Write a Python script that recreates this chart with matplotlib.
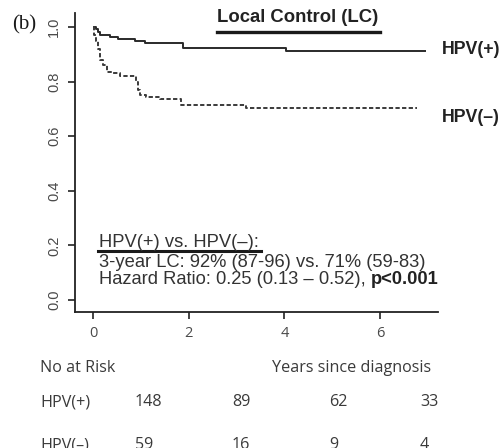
import matplotlib
matplotlib.use("Agg")
import matplotlib.pyplot as plt
from matplotlib.lines import Line2D

# Kaplan-Meier local control estimates (years, proportion)
t_pos = [0, 0.06, 0.10, 0.15, 0.36, 0.52, 0.88, 1.09, 1.88, 4.04, 6.95]
s_pos = [1.0, 0.993, 0.98, 0.97, 0.963, 0.956, 0.949, 0.941, 0.924, 0.913, 0.913]

t_neg = [0, 0.03, 0.07, 0.10, 0.15, 0.20, 0.30, 0.42, 0.56, 0.90, 0.94, 0.98,
         1.10, 1.40, 1.83, 3.20, 6.78]
s_neg = [1.0, 0.97, 0.95, 0.92, 0.88, 0.86, 0.835, 0.83, 0.82, 0.80, 0.77, 0.75,
         0.745, 0.736, 0.714, 0.703, 0.703]

x_ticks = [0, 2, 4, 6]
y_ticks = [0.0, 0.2, 0.4, 0.6, 0.8, 1.0]
y_ticklabels = ["0.0", "0.2", "0.4", "0.6", "0.8", "1.0"]

group_labels = ["HPV(+)", "HPV(\u2013)"]
risk_pos = [148, 89, 62, 33]
risk_neg = [59, 16, 9, 4]

W, H = 501, 448
SANS = "Liberation Sans"
TABLE = "Open Sans"


def fx(x):
    return x / W


def fy(y):
    return 1 - y / H


fig = plt.figure(figsize=(W / 100, H / 100), dpi=100)
ax = fig.add_axes([fx(75), fy(312), fx(438) - fx(75), fy(13) - fy(312)])

ax.step(t_pos, s_pos, where="post", color="#2a2a2a", lw=1.4, solid_capstyle="butt")
ax.step(t_neg, s_neg, where="post", color="#3a3a3a", lw=1.4,
        linestyle=(0, (2.2, 1.2)))

ax.set_xlim(-0.376, 7.21)
ax.set_ylim(-0.044, 1.051)
for side in ("top", "right"):
    ax.spines[side].set_visible(False)
for side in ("left", "bottom"):
    ax.spines[side].set_linewidth(1.3)
    ax.spines[side].set_color("#222222")

ax.set_yticks(y_ticks)
ax.set_yticklabels(y_ticklabels, rotation=90, va="center", family=SANS,
                   fontsize=10.5, color="#4a4a4a")
ax.set_xticks(x_ticks)
ax.set_xticklabels([str(v) for v in x_ticks], family=TABLE, fontsize=10.5,
                   color="#4a4a4a")
ax.tick_params(axis="y", direction="out", length=5, width=1.2, pad=5,
               color="#222222")
ax.tick_params(axis="x", direction="out", length=5, width=1.2, pad=5,
               color="#222222")

# Panel letter and title
fig.text(fx(12), fy(25), "(b)", family="Liberation Serif", fontsize=15,
         ha="left", va="center", color="#1a1a1a")
fig.text(fx(298), fy(18), "Local Control (LC)", family=SANS, fontsize=13.3,
         fontweight="bold", ha="center", va="center", color="#222222")
fig.add_artist(Line2D([fx(217), fx(380)], [fy(32), fy(32)], lw=2.4,
                      color="#1a1a1a"))

# Curve labels
fig.text(fx(442), fy(50), group_labels[0], family=SANS, fontsize=12.8,
         fontweight="bold", ha="left", va="center", color="#222222")
fig.text(fx(442), fy(117), group_labels[1], family=SANS, fontsize=12.8,
         fontweight="bold", ha="left", va="center", color="#222222")

# Comparison summary
fs = 13.2
fig.text(fx(99), fy(242), "HPV(+) vs. HPV(\u2013):", family=SANS, fontsize=fs,
         ha="left", va="center", color="#333333")
fig.add_artist(Line2D([fx(98), fx(261)], [fy(251), fy(251)], lw=2.2,
                      color="#1a1a1a"))
fig.text(fx(99), fy(262), "3-year LC: 92% (87-96) vs. 71% (59-83)", family=SANS,
         fontsize=fs, ha="left", va="center", color="#333333")
hr = fig.text(fx(99), fy(279), "Hazard Ratio: 0.25 (0.13 \u2013 0.52), ",
              family=SANS, fontsize=fs, ha="left", va="center", color="#333333")
fig.canvas.draw()
bb = hr.get_window_extent(renderer=fig.canvas.get_renderer())
fig.text(bb.x1 / fig.dpi / fig.get_figwidth(), fy(279), "p<0.001", family=SANS,
         fontsize=fs, fontweight="bold", ha="left", va="center", color="#222222")

# Numbers at risk
tfs = 11.6
fig.text(fx(40), fy(368), "No at Risk", family=TABLE, fontsize=tfs,
         ha="left", va="center", color="#3a3a3a")
fig.text(fx(272), fy(368), "Years since diagnosis", family=TABLE, fontsize=tfs,
         ha="left", va="center", color="#3a3a3a")
col_x = [135, 232, 329, 420]
for row_y, label, counts in ((402, group_labels[0], risk_pos),
                             (445, group_labels[1], risk_neg)):
    fig.text(fx(40), fy(row_y), label, family=TABLE, fontsize=tfs,
             ha="left", va="center", color="#3a3a3a")
    for cx, n in zip(col_x, counts):
        fig.text(fx(cx), fy(row_y), str(n), family=TABLE, fontsize=tfs,
                 ha="left", va="center", color="#3a3a3a")

fig.savefig("out.png", dpi=100)
